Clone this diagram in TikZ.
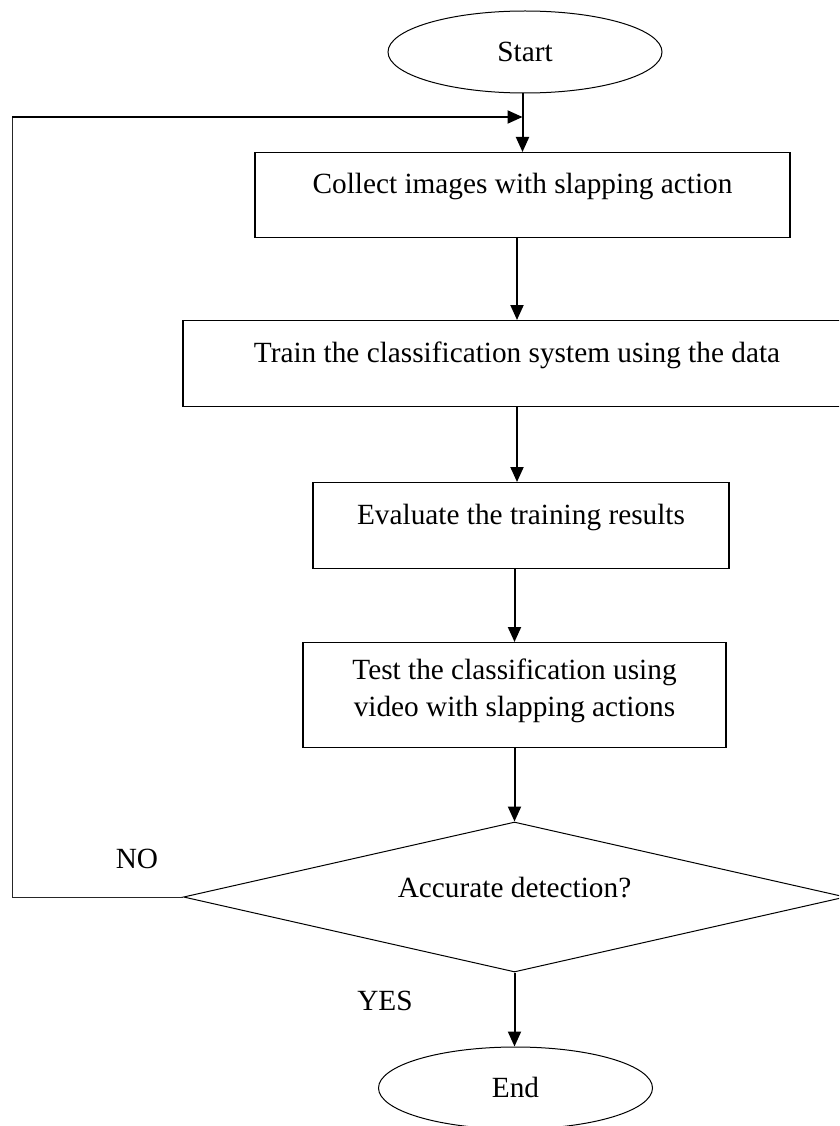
\documentclass[tikz,border=0pt]{standalone}
\usepackage{fontspec}
\setmainfont{Liberation Serif}
\usetikzlibrary{shapes.geometric,arrows.meta}
\begin{document}
\begin{tikzpicture}[x=1pt,y=-1pt,
  txt/.style={font=\fontsize{29.3}{37}\selectfont},
  box/.style={txt,draw=black,line width=1.1pt,rectangle,inner sep=0pt,anchor=north,align=center},
  term/.style={txt,draw=black,line width=1pt,ellipse,inner sep=0pt,minimum width=274pt,minimum height=82pt,text height=19.5pt,text depth=0pt},
  decide/.style={txt,draw=black,line width=1pt,diamond,shape aspect=4.4,inner sep=0pt,minimum width=662pt,minimum height=150pt,text height=20pt,text depth=20pt},
  arr/.style={line width=2pt,-{Triangle[length=15pt,width=13pt]}},
  loopline/.style={line width=1pt,black!85},
  lbl/.style={txt,inner sep=0pt,anchor=base}]
\useasboundingbox (0,0) rectangle (839,1126);
\clip (0,0) rectangle (839,1126);

\node[term] (start) at (525,52) {Start};
\node[box,minimum width=535pt,text height=41pt,text depth=44pt] (b1) at (522.5,152) {Collect images with slapping action};
\node[box,minimum width=668pt,text height=42pt,text depth=44pt] (b2) at (517,320) {Train the classification system using the data};
\node[box,minimum width=416pt,text height=42pt,text depth=44pt] (b3) at (521,482) {Evaluate the training results};
\node[box,minimum width=423pt,text height=37pt,text depth=68pt] (b4) at (514.5,642) {\begin{tabular}[t]{@{}c@{}}Test the classification using\\video with slapping actions\end{tabular}};
\node[decide] (dec) at (514.5,897) {Accurate detection?};
\node[term] (end) at (515.5,1088) {End};

\node[lbl] (no) at (137,868) {NO};
\node[lbl] (yes) at (385,1010) {YES};

\path (b1.north) ++(0,-35) coordinate (j);
\coordinate (lc) at (12,117);

\draw[arr] (b1.north |- start.south) -- (b1.north);
\draw[arr] (b1.south -| b2.north) -- (b2.north);
\draw[arr] (b2.south) -- (b2.south |- b3.north);
\draw[arr] (b3.south -| b4.north) -- (b4.north);
\draw[arr] (b4.south) -- (dec.north);
\draw[arr] (dec.south) -- (dec.south |- end.north);

\draw[loopline] (dec.west) -- (dec.west -| lc) -- (lc);
\draw[arr] (lc) -- (j);
\end{tikzpicture}
\end{document}
